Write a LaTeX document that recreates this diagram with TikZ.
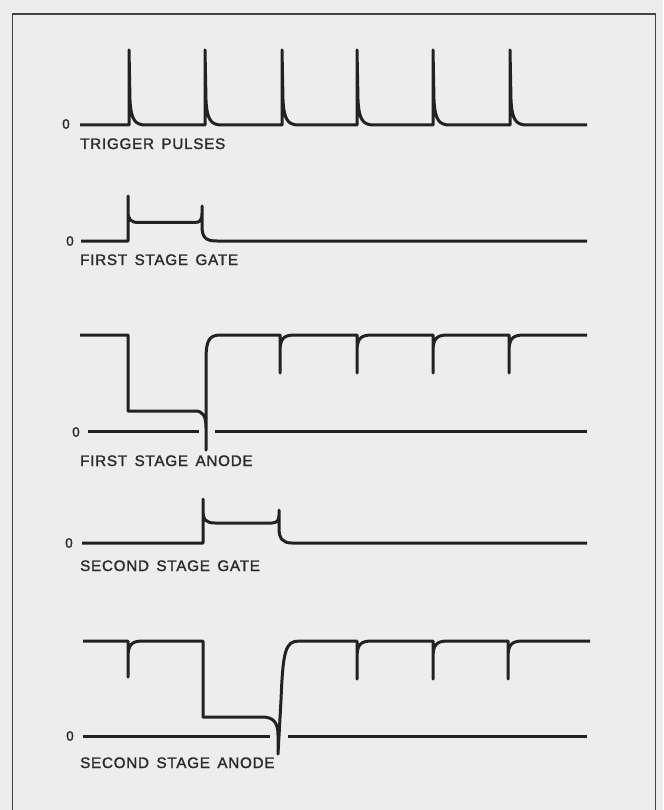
\documentclass[tikz,border=0pt]{standalone}
\usepackage{fontspec}
\setmainfont{Liberation Sans}
\newfontfamily\lblfont[LetterSpace=5,WordSpace=1.5,FakeBold=1.6]{Liberation Sans}
\newfontfamily\zerofont[FakeBold=1.6]{Liberation Sans}
\definecolor{bg}{RGB}{236,237,236}
\definecolor{ink}{RGB}{34,34,34}
\definecolor{txt}{RGB}{44,44,44}
\begin{document}
\begin{tikzpicture}[x=1pt,y=-1pt,
  wave/.style={draw=ink,line width=3pt,line join=round},
  frameline/.style={draw=ink!85,line width=1.8pt},
  lbl/.style={anchor=base west,inner sep=0pt,text=txt,font=\lblfont\fontsize{15.2}{18}\selectfont},
  zero/.style={inner sep=0pt,text=txt,font=\zerofont\fontsize{13.5}{16}\selectfont}]
\useasboundingbox (0,0) rectangle (663,810);
\fill[bg] (0,0) rectangle (663,810);
\draw[frameline] (12.5,810) -- (12.5,14) -- (655.5,14) -- (655.5,810);

% Trigger pulses
\draw[wave] (80,125) foreach \x in {129,205,282,357,433,510} {
  -- (\x,125) -- (\x,50) -- ({\x+1},100) .. controls ({\x+2},120) and ({\x+6},125) .. ({\x+17},125) } -- (587,125);
\node[zero] (z1) at (66,124) {0};
\node[lbl] (l1) at (80,149) {TRIGGER PULSES};

% First stage gate
\draw[wave] (81,241) -- (128,241) -- (128,196) -- (128,211)
  .. controls (128,220) and (131,222.5) .. (139,222.5) -- (195,222.5)
  .. controls (200,222.5) and (202,220) .. (202,213) -- (202,206) -- (202,226)
  .. controls (202,238) and (206,241) .. (217,241) -- (587,241);
\node[zero] (z2) at (70,241) {0};
\node[lbl] (l2) at (80,265) {FIRST STAGE GATE};

% First stage anode
\draw[wave] (80,335) -- (128,335) -- (128,411) -- (195,411)
  .. controls (203,411) and (206,416) .. (206,428) -- (206,450) -- (206,360)
  .. controls (206,340) and (209,335) .. (221,335)
  foreach \x in {280,357,433,509} {
  -- (\x,335) -- (\x,373) -- (\x,352) .. controls (\x,339) and ({\x+3},335) .. ({\x+15},335) } -- (587,335);
\draw[wave] (88,431) -- (199,431);
\draw[wave] (215,431) -- (587,431);
\node[zero] (z3) at (76,432) {0};
\node[lbl] (l3) at (80,466) {FIRST STAGE ANODE};

% Second stage gate
\draw[wave] (82,543) -- (203,543) -- (203,499) -- (203,510)
  .. controls (203,520) and (206,523) .. (215,523) -- (272,523)
  .. controls (277,523) and (279,520) .. (279,515) -- (279,510) -- (279,528)
  .. controls (279,539) and (283,543) .. (292,543) -- (587,543);
\node[zero] (z4) at (69,543) {0};
\node[lbl] (l4) at (80,571) {SECOND STAGE GATE};

% Second stage anode
\draw[wave] (83,641) -- (128,641) -- (128,677) -- (128,658)
  .. controls (128,645) and (131,641) .. (143,641) -- (203,641) -- (203,717) -- (262,717)
  .. controls (273,717) and (278,722) .. (278,735) -- (278,754) -- (281,700)
  .. controls (283,652) and (285,641) .. (299,641)
  foreach \x in {357,433,508} {
  -- (\x,641) -- (\x,679) -- (\x,658) .. controls (\x,645) and ({\x+3},641) .. ({\x+15},641) } -- (590,641);
\draw[wave] (83,736) -- (270,736);
\draw[wave] (288,736) -- (587,736);
\node[zero] (z5) at (70,736) {0};
\node[lbl] (l5) at (80,768) {SECOND STAGE ANODE};
\end{tikzpicture}
\end{document}
